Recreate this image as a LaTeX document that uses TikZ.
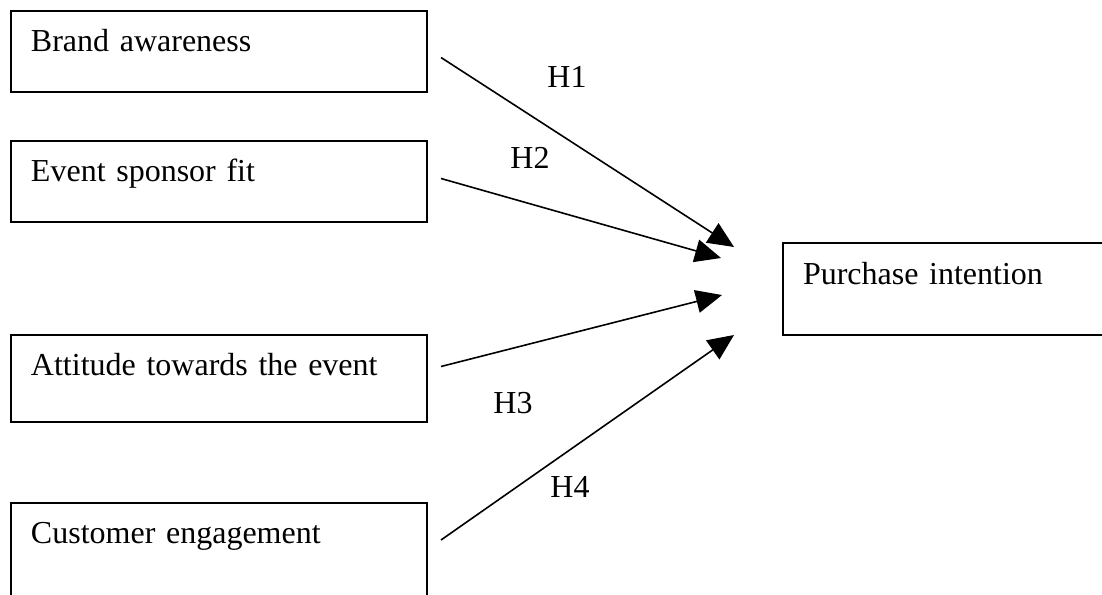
\documentclass[tikz,border=0pt]{standalone}
\usepackage{fontspec}
\setmainfont{Liberation Serif}
\usepackage{tikz}
\usetikzlibrary{arrows.meta}

\begin{document}
\begin{tikzpicture}[x=0.5pt,y=-0.5pt]
    \tikzstyle{factor}=[draw, line width=1pt, anchor=north west, align=left, inner xsep=10pt, inner ysep=0pt, text width=188pt, text height=20pt, font=\fontsize{16}{19}\selectfont]
    \tikzstyle{hyp}=[font=\fontsize{16}{19}\selectfont, inner sep=0pt]
    \tikzstyle{link}=[line width=0.8pt, -{Triangle[length=13pt,width=11.5pt]}]
    \useasboundingbox (0,0) rectangle (1102,594);
    \clip (0,0) rectangle (1102,594);
    % factors
    \node[factor, text depth=20.5pt] (brand) at (10,10) {Brand awareness};
    \node[factor, text depth=20.5pt] (fit) at (10,140) {Event sponsor fit};
    \node[factor, text depth=23.5pt] (attitude) at (10,334) {Attitude towards the event};
    \node[factor, text depth=35pt] (engage) at (10,502) {Customer engagement};
    \node[factor, text depth=25.5pt, text height=20.5pt, text width=170pt] (purchase) at (782,242) {Purchase intention};
    % arrow tips
    \coordinate (t1) at (734,247);
    \coordinate (t2) at (721,258);
    \coordinate (t3) at (722,295);
    \coordinate (t4) at (734,335);
    \draw[link] ([xshift=6.5pt,yshift=-3pt]brand.east) -- (t1);
    \draw[link] ([xshift=6.5pt,yshift=1.5pt]fit.east) -- (t2);
    \draw[link] ([xshift=6.5pt,yshift=6pt]attitude.east) -- (t3);
    \draw[link] ([xshift=6.5pt]engage.east |- 0,540) -- (t4);
    % labels
    \node[hyp] (h1) at (567,77) {H1};
    \node[hyp] (h2) at (530,158) {H2};
    \node[hyp] (h3) at (513,403) {H3};
    \node[hyp] (h4) at (570,487) {H4};
\end{tikzpicture}
\end{document}
